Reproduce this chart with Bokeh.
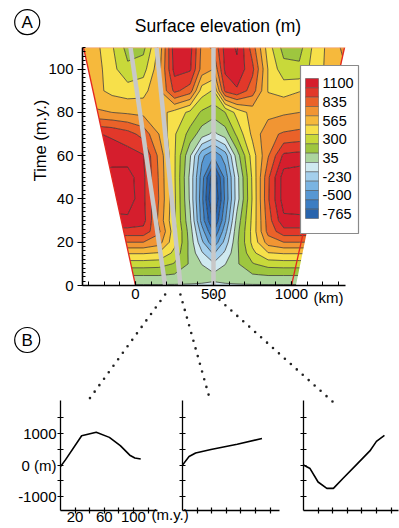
import numpy as np
from bokeh.plotting import figure
from bokeh.layouts import column, row
from bokeh.models import Range1d, FixedTicker
from bokeh.embed import file_html
from bokeh.resources import INLINE
from bokeh.core.properties import value

FONT = "Liberation Sans"

# ---------------- data ----------------
# grid of the surface-elevation map: distance (km) x model time (m.y.)
dist_km = [-350, -250, -150, -50, 50, 150, 250, 350, 425, 500, 575, 650, 750, 850, 950, 1050, 1150, 1250, 1350]
time_my = [0, 5, 10, 15, 20, 25, 30, 40, 50, 60, 70, 80, 90, 100, 110]
# surface elevation (m), one list per time row
elev_t0 = [20, 20, 20, 20, 20, 20, 20, 20, 20, 20, 20, 20, 20, 20, 20, 20, 20, 20, 20]
elev_t5 = [180, 180, 180, 180, 180, 180, 160, 120, 90, 60, 90, 120, 160, 180, 180, 180, 180, 180, 180]
elev_t10 = [370, 370, 370, 370, 370, 360, 290, 150, 30, -80, 30, 150, 290, 360, 370, 370, 370, 370, 370]
elev_t15 = [580, 580, 580, 580, 580, 560, 400, 130, -80, -250, -70, 140, 400, 560, 580, 580, 580, 580, 580]
elev_t20 = [834, 834, 834, 834, 834, 760, 470, 120, -200, -480, -180, 140, 470, 760, 834, 834, 834, 834, 834]
elev_t25 = [1050, 1050, 1050, 1050, 1050, 860, 480, 100, -300, -650, -280, 120, 480, 880, 1050, 1050, 1050, 1050, 1050]
elev_t30 = [1180, 1180, 1200, 1200, 1150, 800, 450, 60, -420, -800, -380, 80, 470, 900, 1200, 1200, 1200, 1200, 1200]
elev_t40 = [1280, 1280, 1300, 1320, 1130, 830, 460, 10, -460, -950, -470, -30, 450, 950, 1300, 1320, 1300, 1280, 1280]
elev_t50 = [1250, 1260, 1290, 1300, 1130, 820, 450, 0, -430, -880, -450, -20, 460, 940, 1300, 1320, 1300, 1280, 1280]
elev_t60 = [1150, 1160, 1170, 1160, 1110, 800, 450, 50, -330, -480, -300, 100, 500, 820, 1130, 1150, 1130, 1120, 1120]
elev_t70 = [1120, 1110, 1080, 1020, 920, 700, 450, 250, 100, 0, 100, 330, 600, 800, 850, 870, 860, 850, 850]
elev_t80 = [750, 720, 700, 680, 660, 620, 520, 400, 280, 230, 300, 480, 620, 650, 680, 700, 700, 700, 700]
elev_t90 = [640, 600, 530, 500, 520, 680, 1000, 900, 500, 420, 1000, 1080, 900, 560, 520, 560, 620, 680, 720]
elev_t100 = [680, 620, 480, 330, 380, 650, 1150, 1120, 780, 700, 1130, 1200, 1000, 560, 350, 330, 500, 620, 700]
elev_t110 = [700, 600, 450, 250, 260, 600, 1180, 1150, 800, 850, 1150, 1250, 900, 500, 250, 250, 480, 620, 750]

# model domain (km) at t = 0 and t = 110 m.y.
domain_left_km = [0, -333]
domain_right_km = [1000, 1340]
domain_my = [0, 110]

# the three sections (grey lines) whose histories are shown in panel B
sec1_km = [190, -32]
sec2_km = [288, 135]
sec3_km = [500, 500]
sec_my = [0, 110]

# legend
legend_labels = [1100, 835, 565, 300, 35, -230, -500, -765]
palette = ["#d51e2d", "#e2382a", "#ea6229", "#f19533", "#f6b93c", "#f7e04a", "#c8d93a",
           "#9ec63f", "#acd59e", "#cfe9f0", "#a4cfec", "#7ab4e2", "#5797d2", "#3c7dc2", "#2864ad"]

x_ticks_main = [0, 500, 1000]
y_ticks_main = [0, 20, 40, 60, 80, 100]

# panel B: elevation histories along the sections
prof1_my = [0, 7, 29, 49, 67, 82, 95, 102, 110]
prof1_m = [-50, 170, 920, 1030, 870, 610, 310, 220, 190]
prof2_my = [0, 9, 18, 39, 75, 109]
prof2_m = [0, 267, 378, 489, 656, 833]
prof3_my = [0, 9, 20, 32, 41, 54, 73, 91, 100, 111]
prof3_m = [0, -111, -533, -733, -733, -422, 22, 444, 744, 933]
pb_y_ticks = [-1000, -500, 0, 500, 1000, 1500]
pb_x_ticks = [20, 40, 60, 80, 100, 120]

# ---------------- layout constants (page pixels) ----------------
W, H = 399, 528
FX0, FX1 = 82, 364      # main frame left/right
FY0, FY1 = 47, 285      # main frame top/bottom
X_AT_0 = 135            # page x of 0 km
KM_PER_PX = 1000 / 156
MY_PER_PX = 110 / (FY1 - FY0)


def kx(px):
    return (px - X_AT_0) * KM_PER_PX


def ty(py):
    return (FY1 - py) * MY_PER_PX


def px_of_km(km):
    return X_AT_0 + km / KM_PER_PX


# ---------------- panel A ----------------
pA = figure(frame_width=FX1 - FX0, frame_height=FY1 - FY0,
            x_range=Range1d(kx(FX0), kx(FX1)), y_range=Range1d(0, 110),
            min_border_left=FX0, min_border_top=FY0,
            min_border_right=2, min_border_bottom=20,
            output_backend="svg", toolbar_location=None,
            outline_line_color=None, background_fill_color="white", border_fill_color="white")
pA.grid.visible = False

z = np.array([elev_t0, elev_t5, elev_t10, elev_t15, elev_t20, elev_t25, elev_t30, elev_t40,
              elev_t50, elev_t60, elev_t70, elev_t80, elev_t90, elev_t100, elev_t110], dtype=float)
STEP = (legend_labels[0] - legend_labels[-1]) / 14
levels = [legend_labels[-1] + k * STEP for k in range(-2, 17)]
fills = [palette[min(max(15 - k, 1), 15) - 1] for k in range(-2, 16)]
pA.contour(x=np.array(dist_km, dtype=float), y=np.array(time_my, dtype=float), z=z, levels=levels,
           fill_color=fills, line_color="#2a2a2a", line_width=0.7)

# white outside the model domain
pA.patches(xs=[[-3000, domain_left_km[0], domain_left_km[0], domain_left_km[1], domain_left_km[1], -3000],
               [domain_right_km[0], domain_right_km[0], 3000, 3000, domain_right_km[1], domain_right_km[1]]],
           ys=[[-10, -10, domain_my[0], domain_my[1], 120, 120],
               [-10, domain_my[0], -10, 120, 120, domain_my[1]]],
           fill_color="white", line_color=None)
pA.line(domain_left_km, domain_my, line_color="#e3261f", line_width=1.3)
pA.line(domain_right_km, domain_my, line_color="#e3261f", line_width=1.3)
pA.line([domain_left_km[1], domain_right_km[1]], [domain_my[1], domain_my[1]],
        line_color="#f2a27a", line_width=1.6)

# grey section lines
pA.multi_line(xs=[sec1_km, sec2_km, sec3_km], ys=[sec_my, sec_my, sec_my],
              line_color="#c8c8c8", line_width=4.5)

# legend (swatches + labels)
LX0, LX1, LY0, LY1 = 300, 358, 65, 233
SW_X0, SW_X1, SW_Y0, SW_H = 305, 318, 78, 140 / 15
pA.quad(left=[kx(LX0)], right=[kx(LX1)], top=[ty(LY0)], bottom=[ty(LY1)],
        fill_color="white", line_color="#8a8a8a", line_width=1.2)
pA.quad(left=[kx(SW_X0)] * 15, right=[kx(SW_X1)] * 15,
        top=[ty(SW_Y0 + i * SW_H) for i in range(15)],
        bottom=[ty(SW_Y0 + (i + 1) * SW_H) for i in range(15)],
        fill_color=palette, line_color="#4a4a4a", line_width=0.5)
pA.text(x=[kx(322)] * 8, y=[ty(SW_Y0 + (2 * i + 0.5) * SW_H) for i in range(8)],
        text=[str(v) for v in legend_labels], text_align="left", text_baseline="middle",
        text_font=value(FONT), text_font_size="14.5px", text_color="black")

# axes
xa = pA.xaxis[0]
xa.ticker = FixedTicker(ticks=x_ticks_main, minor_ticks=list(range(-300, 1400, 100)))
xa.bounds = (kx(FX0), kx(345))
xa.major_tick_in, xa.major_tick_out = 4, 0
xa.minor_tick_in, xa.minor_tick_out = 4, 0
xa.major_label_standoff = 3
ya = pA.yaxis[0]
ya.ticker = FixedTicker(ticks=y_ticks_main, minor_ticks=list(range(0, 111, 2)))
ya.major_tick_in, ya.major_tick_out = 0, 5
ya.minor_tick_in, ya.minor_tick_out = 3, 0
ya.major_label_standoff = 4
for ax in (xa, ya):
    ax.axis_line_width = 1.6
    ax.axis_line_color = "black"
    ax.major_tick_line_width = 1.2
    ax.minor_tick_line_width = 1
    ax.major_label_text_font = FONT
    ax.major_label_text_font_size = "15px"
    ax.major_label_text_color = "black"


# ---------------- panel B ----------------
def panel_b(px_my, pm, width, left, right, x_end, labelled, margin=None):
    kw = dict(margin=margin) if margin is not None else {}
    p = figure(width=width, height=128, x_range=Range1d(0, x_end), y_range=Range1d(-1430, 2030),
               min_border_left=left, min_border_right=right, min_border_top=2, min_border_bottom=16,
               toolbar_location=None, output_backend="svg", outline_line_color=None,
               background_fill_color=None, border_fill_color=None, **kw)
    p.grid.visible = False
    p.line(px_my, pm, line_color="black", line_width=1.6)
    xo = {t: "" for t in pb_x_ticks}
    yo = {t: "" for t in pb_y_ticks}
    if labelled:
        xo.update({20: "20", 60: "60", 100: "100"})
        yo.update({1000: "1000", 0: "0 (m)", -1000: "-1000"})
    for ax, ticks, ov_ in ((p.xaxis[0], pb_x_ticks, xo), (p.yaxis[0], pb_y_ticks, yo)):
        ax.ticker = FixedTicker(ticks=ticks)
        ax.major_label_overrides = ov_
        ax.major_tick_in, ax.major_tick_out = 3, 3
        ax.minor_tick_line_color = None
        ax.axis_line_width = 1.3
        ax.major_tick_line_width = 1.2
        ax.major_label_text_font = FONT
        ax.major_label_text_font_size = "15px"
        ax.major_label_text_color = "black"
        ax.major_label_standoff = 1
    p.xaxis[0].major_label_standoff = -2
    return p


p1 = panel_b(prof1_my, prof1_m, 197, 60, 40, 133, True)
p2 = panel_b(prof2_my, prof2_m, 121, 5, 19, 133, False, margin=(0, 0, 0, -20))
p3 = panel_b(prof3_my, prof3_m, 101, 5, 1, 133 * 95 / 97, False)

# ---------------- page overlay: panel letters, titles, dotted leaders ----------------
ov = figure(width=W, height=H, x_range=Range1d(0, W), y_range=Range1d(H, 0),
            min_border=0, toolbar_location=None, output_backend="svg",
            x_axis_location=None, y_axis_location=None, outline_line_color=None,
            background_fill_color=None, border_fill_color=None)
ov.grid.visible = False
targets_px = [87, 210, 332]
starts_px = [px_of_km(sec1_km[0]), px_of_km(sec2_km[0]), px_of_km(sec3_km[0])]
ov.multi_line(xs=[[s, t] for s, t in zip(starts_px, targets_px)], ys=[[294, 401]] * 3,
              line_color="#222222", line_width=2.6, line_dash="0 8", line_cap="round")
ov.scatter(x=[26.7, 26.7], y=[21.7, 339.5], size=25, marker="circle", fill_color=None,
           line_color="black", line_width=1.2)
ov.text(x=[26.7, 26.7], y=[21.7, 339.5], text=["A", "B"], text_align="center", text_baseline="middle",
        text_font=value(FONT), text_font_size="17px", text_color="black")
ov.text(x=[217.5], y=[25], text=["Surface elevation (m)"], text_align="center", text_baseline="middle",
        text_font=value(FONT), text_font_size="17.5px", text_color="black")
ov.text(x=[39], y=[140], text=["Time (m.y.)"], angle=np.pi / 2, text_align="center",
        text_baseline="middle", text_font=value(FONT), text_font_size="16.5px", text_color="black")
ov.text(x=[313], y=[297], text=["(km)"], text_align="left", text_baseline="middle",
        text_font=value(FONT), text_font_size="15px", text_color="black")
ov.text(x=[151], y=[514], text=["(m.y.)"], text_align="left", text_baseline="middle",
        text_font=value(FONT), text_font_size="15px", text_color="black")

layout = column(pA, row(p1, p2, p3, margin=(93, 0, 0, 0)), row(ov, margin=(-526, 0, 0, 0)))
open("out.html", "w").write(file_html(layout, INLINE, title="Surface elevation"))
